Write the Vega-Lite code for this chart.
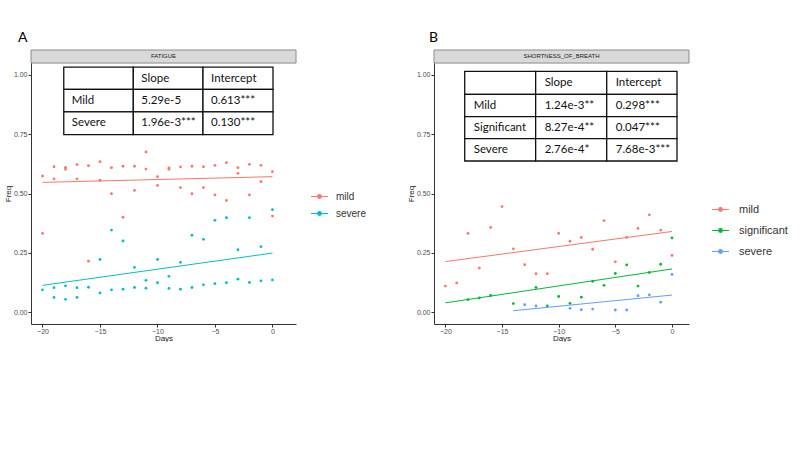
{
  "$schema": "https://vega.github.io/schema/vega-lite/v6.json",
  "background": "white",
  "padding": {"left": 4, "top": 30, "right": 0, "bottom": 0},
  "bounds": "flush",
  "spacing": 138,
  "config": {
    "view": {"stroke": null},
    "axis": {"grid": false, "domainColor": "#333333", "tickColor": "#333333", "tickSize": 3, "labelFont": "Liberation Sans", "labelFontSize": 7, "labelColor": "#4d4d4d", "labelPadding": 1, "titleFont": "Liberation Sans", "titleFontSize": 8, "titleFontWeight": "normal", "titleColor": "#222222"},
    "axisX": {"titlePadding": 0, "labelPadding": 0},
    "axisY": {"titlePadding": 1, "titleY": 143.5},
    "title": {"font": "Lato", "fontSize": 14, "fontWeight": "normal", "color": "black", "anchor": "start", "frame": "group", "baseline": "alphabetic", "offset": 5}
  },
  "datasets": {
    "ptsA": [
      {"day": -20, "freq": 0.574, "sev": "mild"}, {"day": -20, "freq": 0.332, "sev": "mild"},
      {"day": -19, "freq": 0.613, "sev": "mild"}, {"day": -19, "freq": 0.562, "sev": "mild"},
      {"day": -18, "freq": 0.610, "sev": "mild"}, {"day": -18, "freq": 0.602, "sev": "mild"},
      {"day": -17, "freq": 0.622, "sev": "mild"}, {"day": -17, "freq": 0.562, "sev": "mild"},
      {"day": -16, "freq": 0.617, "sev": "mild"}, {"day": -16, "freq": 0.215, "sev": "mild"},
      {"day": -15, "freq": 0.634, "sev": "mild"}, {"day": -15, "freq": 0.556, "sev": "mild"},
      {"day": -14, "freq": 0.609, "sev": "mild"}, {"day": -14, "freq": 0.499, "sev": "mild"},
      {"day": -13, "freq": 0.615, "sev": "mild"}, {"day": -13, "freq": 0.400, "sev": "mild"},
      {"day": -12, "freq": 0.615, "sev": "mild"}, {"day": -12, "freq": 0.513, "sev": "mild"},
      {"day": -11, "freq": 0.675, "sev": "mild"}, {"day": -11, "freq": 0.603, "sev": "mild"},
      {"day": -10, "freq": 0.571, "sev": "mild"}, {"day": -10, "freq": 0.534, "sev": "mild"},
      {"day": -9, "freq": 0.608, "sev": "mild"}, {"day": -9, "freq": 0.602, "sev": "mild"},
      {"day": -8, "freq": 0.612, "sev": "mild"}, {"day": -8, "freq": 0.525, "sev": "mild"},
      {"day": -7, "freq": 0.615, "sev": "mild"}, {"day": -7, "freq": 0.499, "sev": "mild"},
      {"day": -6, "freq": 0.613, "sev": "mild"}, {"day": -6, "freq": 0.525, "sev": "mild"},
      {"day": -5, "freq": 0.619, "sev": "mild"}, {"day": -5, "freq": 0.494, "sev": "mild"},
      {"day": -4, "freq": 0.630, "sev": "mild"}, {"day": -4, "freq": 0.471, "sev": "mild"},
      {"day": -3, "freq": 0.609, "sev": "mild"}, {"day": -3, "freq": 0.585, "sev": "mild"},
      {"day": -2, "freq": 0.623, "sev": "mild"}, {"day": -2, "freq": 0.494, "sev": "mild"},
      {"day": -1, "freq": 0.619, "sev": "mild"}, {"day": -1, "freq": 0.550, "sev": "mild"},
      {"day": 0, "freq": 0.592, "sev": "mild"}, {"day": 0, "freq": 0.405, "sev": "mild"},
      {"day": -20, "freq": 0.094, "sev": "severe"},
      {"day": -19, "freq": 0.103, "sev": "severe"}, {"day": -19, "freq": 0.062, "sev": "severe"},
      {"day": -18, "freq": 0.111, "sev": "severe"}, {"day": -18, "freq": 0.054, "sev": "severe"},
      {"day": -17, "freq": 0.103, "sev": "severe"}, {"day": -17, "freq": 0.062, "sev": "severe"},
      {"day": -16, "freq": 0.105, "sev": "severe"},
      {"day": -15, "freq": 0.222, "sev": "severe"}, {"day": -15, "freq": 0.081, "sev": "severe"},
      {"day": -14, "freq": 0.346, "sev": "severe"}, {"day": -14, "freq": 0.094, "sev": "severe"},
      {"day": -13, "freq": 0.300, "sev": "severe"}, {"day": -13, "freq": 0.097, "sev": "severe"},
      {"day": -12, "freq": 0.189, "sev": "severe"}, {"day": -12, "freq": 0.104, "sev": "severe"},
      {"day": -11, "freq": 0.134, "sev": "severe"}, {"day": -11, "freq": 0.101, "sev": "severe"},
      {"day": -10, "freq": 0.222, "sev": "severe"}, {"day": -10, "freq": 0.124, "sev": "severe"},
      {"day": -9, "freq": 0.151, "sev": "severe"}, {"day": -9, "freq": 0.100, "sev": "severe"},
      {"day": -8, "freq": 0.210, "sev": "severe"}, {"day": -8, "freq": 0.097, "sev": "severe"},
      {"day": -7, "freq": 0.324, "sev": "severe"}, {"day": -7, "freq": 0.104, "sev": "severe"},
      {"day": -6, "freq": 0.307, "sev": "severe"}, {"day": -6, "freq": 0.115, "sev": "severe"},
      {"day": -5, "freq": 0.387, "sev": "severe"}, {"day": -5, "freq": 0.120, "sev": "severe"},
      {"day": -4, "freq": 0.398, "sev": "severe"}, {"day": -4, "freq": 0.124, "sev": "severe"},
      {"day": -3, "freq": 0.263, "sev": "severe"}, {"day": -3, "freq": 0.139, "sev": "severe"},
      {"day": -2, "freq": 0.398, "sev": "severe"}, {"day": -2, "freq": 0.125, "sev": "severe"},
      {"day": -1, "freq": 0.276, "sev": "severe"}, {"day": -1, "freq": 0.132, "sev": "severe"},
      {"day": 0, "freq": 0.432, "sev": "severe"}, {"day": 0, "freq": 0.136, "sev": "severe"}
    ],
    "fitA": [
      {"day": -20, "freq": 0.547, "sev": "mild"}, {"day": 0, "freq": 0.571, "sev": "mild"},
      {"day": -20, "freq": 0.113, "sev": "severe"}, {"day": 0, "freq": 0.249, "sev": "severe"}
    ],
    "stripA": [{"day": -21, "day2": 2.05, "freq": 1.05, "freq2": 1.105, "label": "FATIGUE"}],
    "tblA": [
      {"day": -18.15, "day2": -12.10, "freq": 1.033, "freq2": 0.939, "label": ""},
      {"day": -12.10, "day2": -6.04, "freq": 1.033, "freq2": 0.939, "label": "Slope"},
      {"day": -6.04, "day2": 0.05, "freq": 1.033, "freq2": 0.939, "label": "Intercept"},
      {"day": -18.15, "day2": -12.10, "freq": 0.939, "freq2": 0.844, "label": "Mild"},
      {"day": -12.10, "day2": -6.04, "freq": 0.939, "freq2": 0.844, "label": "5.29e-5"},
      {"day": -6.04, "day2": 0.05, "freq": 0.939, "freq2": 0.844, "label": "0.613***"},
      {"day": -18.15, "day2": -12.10, "freq": 0.844, "freq2": 0.748, "label": "Severe"},
      {"day": -12.10, "day2": -6.04, "freq": 0.844, "freq2": 0.748, "label": "1.96e-3***"},
      {"day": -6.04, "day2": 0.05, "freq": 0.844, "freq2": 0.748, "label": "0.130***"}
    ],
    "ptsB": [
      {"day": -20, "freq": 0.110, "sev": "mild"}, {"day": -19, "freq": 0.123, "sev": "mild"},
      {"day": -18, "freq": 0.332, "sev": "mild"}, {"day": -17, "freq": 0.186, "sev": "mild"},
      {"day": -16, "freq": 0.357, "sev": "mild"}, {"day": -15, "freq": 0.445, "sev": "mild"},
      {"day": -14, "freq": 0.267, "sev": "mild"}, {"day": -13, "freq": 0.200, "sev": "mild"},
      {"day": -12, "freq": 0.162, "sev": "mild"}, {"day": -11, "freq": 0.162, "sev": "mild"},
      {"day": -10, "freq": 0.332, "sev": "mild"}, {"day": -9, "freq": 0.299, "sev": "mild"},
      {"day": -8, "freq": 0.315, "sev": "mild"}, {"day": -7, "freq": 0.265, "sev": "mild"},
      {"day": -6, "freq": 0.386, "sev": "mild"}, {"day": -5, "freq": 0.212, "sev": "mild"},
      {"day": -4, "freq": 0.315, "sev": "mild"}, {"day": -3, "freq": 0.353, "sev": "mild"},
      {"day": -2, "freq": 0.410, "sev": "mild"}, {"day": -1, "freq": 0.346, "sev": "mild"},
      {"day": 0, "freq": 0.239, "sev": "mild"},
      {"day": -18, "freq": 0.053, "sev": "significant"}, {"day": -17, "freq": 0.060, "sev": "significant"},
      {"day": -16, "freq": 0.070, "sev": "significant"}, {"day": -14, "freq": 0.036, "sev": "significant"},
      {"day": -12, "freq": 0.104, "sev": "significant"}, {"day": -11, "freq": 0.026, "sev": "significant"},
      {"day": -10, "freq": 0.066, "sev": "significant"}, {"day": -9, "freq": 0.037, "sev": "significant"},
      {"day": -8, "freq": 0.063, "sev": "significant"}, {"day": -7, "freq": 0.130, "sev": "significant"},
      {"day": -6, "freq": 0.113, "sev": "significant"}, {"day": -5, "freq": 0.163, "sev": "significant"},
      {"day": -4, "freq": 0.199, "sev": "significant"}, {"day": -3, "freq": 0.110, "sev": "significant"},
      {"day": -2, "freq": 0.167, "sev": "significant"}, {"day": -1, "freq": 0.202, "sev": "significant"},
      {"day": 0, "freq": 0.313, "sev": "significant"},
      {"day": -13, "freq": 0.031, "sev": "severe"}, {"day": -12, "freq": 0.026, "sev": "severe"},
      {"day": -9, "freq": 0.016, "sev": "severe"}, {"day": -8, "freq": 0.010, "sev": "severe"},
      {"day": -7, "freq": 0.013, "sev": "severe"}, {"day": -5, "freq": 0.009, "sev": "severe"},
      {"day": -4, "freq": 0.009, "sev": "severe"}, {"day": -3, "freq": 0.069, "sev": "severe"},
      {"day": -2, "freq": 0.073, "sev": "severe"}, {"day": -1, "freq": 0.042, "sev": "severe"},
      {"day": 0, "freq": 0.159, "sev": "severe"}
    ],
    "fitB": [
      {"day": -20, "freq": 0.213, "sev": "mild"}, {"day": 0, "freq": 0.340, "sev": "mild"},
      {"day": -20, "freq": 0.039, "sev": "significant"}, {"day": 0, "freq": 0.182, "sev": "significant"},
      {"day": -14, "freq": 0.006, "sev": "severe"}, {"day": 0, "freq": 0.072, "sev": "severe"}
    ],
    "stripB": [{"day": -21, "day2": 1.5, "freq": 1.05, "freq2": 1.105, "label": "SHORTNESS_OF_BREATH"}],
    "tblB": [
      {"day": -18.29, "day2": -12.03, "freq": 1.015, "freq2": 0.918, "label": ""},
      {"day": -12.03, "day2": -5.76, "freq": 1.015, "freq2": 0.918, "label": "Slope"},
      {"day": -5.76, "day2": 0.44, "freq": 1.015, "freq2": 0.918, "label": "Intercept"},
      {"day": -18.29, "day2": -12.03, "freq": 0.918, "freq2": 0.824, "label": "Mild"},
      {"day": -12.03, "day2": -5.76, "freq": 0.918, "freq2": 0.824, "label": "1.24e-3**"},
      {"day": -5.76, "day2": 0.44, "freq": 0.918, "freq2": 0.824, "label": "0.298***"},
      {"day": -18.29, "day2": -12.03, "freq": 0.824, "freq2": 0.731, "label": "Significant"},
      {"day": -12.03, "day2": -5.76, "freq": 0.824, "freq2": 0.731, "label": "8.27e-4**"},
      {"day": -5.76, "day2": 0.44, "freq": 0.824, "freq2": 0.731, "label": "0.047***"},
      {"day": -18.29, "day2": -12.03, "freq": 0.731, "freq2": 0.637, "label": "Severe"},
      {"day": -12.03, "day2": -5.76, "freq": 0.731, "freq2": 0.637, "label": "2.76e-4*"},
      {"day": -5.76, "day2": 0.44, "freq": 0.731, "freq2": 0.637, "label": "7.68e-3***"}
    ]
  },
  "hconcat": [
    {
      "width": 265,
      "height": 274,
      "title": {"text": "A", "dx": -13},
      "layer": [
        {
          "data": {"name": "stripA"},
          "mark": {"type": "rect", "fill": "#d9d9d9", "stroke": "#8c8c8c", "strokeWidth": 1},
          "encoding": {
            "x": {"field": "day", "type": "quantitative", "title": "Days", "scale": {"domain": [-21, 2.05], "nice": false, "zero": false}, "axis": {"values": [-20, -15, -10, -5, 0]}},
            "x2": {"field": "day2"},
            "y": {"field": "freq", "type": "quantitative", "title": "Freq", "scale": {"domain": [-0.05, 1.105], "nice": false, "zero": false}, "axis": {"values": [0, 0.25, 0.5, 0.75, 1], "format": ".2f"}},
            "y2": {"field": "freq2"}
          }
        },
        {
          "data": {"name": "stripA"},
          "mark": {"type": "text", "font": "Liberation Sans", "fontSize": 6, "color": "#1a1a1a", "baseline": "middle", "align": "center", "dy": 6},
          "encoding": {
            "x": {"datum": -9.475, "type": "quantitative", "title": "Days"},
            "y": {"field": "freq2", "type": "quantitative", "title": "Freq"},
            "text": {"field": "label"}
          }
        },
        {
          "data": {"name": "ptsA"},
          "mark": {"type": "point", "filled": true, "size": 8, "opacity": 1},
          "encoding": {
            "x": {"field": "day", "type": "quantitative", "title": "Days"},
            "y": {"field": "freq", "type": "quantitative", "title": "Freq"},
            "color": {"field": "sev", "type": "nominal", "scale": {"domain": ["mild", "severe"], "range": ["#F8766D", "#00BFC4"]},
              "legend": {"orient": "none", "legendX": 279, "legendY": 137, "title": null, "padding": 0, "symbolType": "M-1,0L1,0M-0.22,0A0.22,0.22,0,1,1,0.22,0A0.22,0.22,0,1,1,-0.22,0Z", "symbolSize": 289, "symbolStrokeWidth": 1.2, "labelFont": "Liberation Sans", "labelFontSize": 10, "labelColor": "#333333", "rowPadding": 2, "labelOffset": 7}}
          }
        },
        {
          "data": {"name": "fitA"},
          "mark": {"type": "line", "strokeWidth": 1},
          "encoding": {
            "x": {"field": "day", "type": "quantitative", "title": "Days"},
            "y": {"field": "freq", "type": "quantitative", "title": "Freq"},
            "color": {"field": "sev", "type": "nominal"}
          }
        },
        {
          "data": {"name": "tblA"},
          "mark": {"type": "rect", "fill": "white", "stroke": "#111111", "strokeWidth": 1.3},
          "encoding": {
            "x": {"field": "day", "type": "quantitative", "title": "Days"},
            "x2": {"field": "day2"},
            "y": {"field": "freq", "type": "quantitative", "title": "Freq"},
            "y2": {"field": "freq2"}
          }
        },
        {
          "data": {"name": "tblA"},
          "mark": {"type": "text", "font": "Lato", "fontSize": 11.5, "color": "#111111", "align": "left", "baseline": "middle", "dx": 8, "dy": 11.5},
          "encoding": {
            "x": {"field": "day", "type": "quantitative", "title": "Days"},
            "y": {"field": "freq", "type": "quantitative", "title": "Freq"},
            "text": {"field": "label"}
          }
        }
      ]
    },
    {
      "width": 255,
      "height": 274,
      "title": {"text": "B", "dx": -5},
      "layer": [
        {
          "data": {"name": "stripB"},
          "mark": {"type": "rect", "fill": "#d9d9d9", "stroke": "#8c8c8c", "strokeWidth": 1},
          "encoding": {
            "x": {"field": "day", "type": "quantitative", "title": "Days", "scale": {"domain": [-21, 1.5], "nice": false, "zero": false}, "axis": {"values": [-20, -15, -10, -5, 0]}},
            "x2": {"field": "day2"},
            "y": {"field": "freq", "type": "quantitative", "title": "Freq", "scale": {"domain": [-0.05, 1.105], "nice": false, "zero": false}, "axis": {"values": [0, 0.25, 0.5, 0.75, 1], "format": ".2f"}},
            "y2": {"field": "freq2"}
          }
        },
        {
          "data": {"name": "stripB"},
          "mark": {"type": "text", "font": "Liberation Sans", "fontSize": 6, "color": "#1a1a1a", "baseline": "middle", "align": "center", "dy": 6},
          "encoding": {
            "x": {"datum": -9.75, "type": "quantitative", "title": "Days"},
            "y": {"field": "freq2", "type": "quantitative", "title": "Freq"},
            "text": {"field": "label"}
          }
        },
        {
          "data": {"name": "ptsB"},
          "mark": {"type": "point", "filled": true, "size": 8, "opacity": 1},
          "encoding": {
            "x": {"field": "day", "type": "quantitative", "title": "Days"},
            "y": {"field": "freq", "type": "quantitative", "title": "Freq"},
            "color": {"field": "sev", "type": "nominal", "scale": {"domain": ["mild", "significant", "severe"], "range": ["#F8766D", "#00BA38", "#619CFF"]},
              "legend": {"orient": "none", "legendX": 277, "legendY": 150, "title": null, "padding": 0, "symbolType": "M-1,0L1,0M-0.22,0A0.22,0.22,0,1,1,0.22,0A0.22,0.22,0,1,1,-0.22,0Z", "symbolSize": 289, "symbolStrokeWidth": 1.2, "labelFont": "Liberation Sans", "labelFontSize": 11, "labelColor": "#333333", "rowPadding": 6, "labelOffset": 9}}
          }
        },
        {
          "data": {"name": "fitB"},
          "mark": {"type": "line", "strokeWidth": 1},
          "encoding": {
            "x": {"field": "day", "type": "quantitative", "title": "Days"},
            "y": {"field": "freq", "type": "quantitative", "title": "Freq"},
            "color": {"field": "sev", "type": "nominal"}
          }
        },
        {
          "data": {"name": "tblB"},
          "mark": {"type": "rect", "fill": "white", "stroke": "#111111", "strokeWidth": 1.3},
          "encoding": {
            "x": {"field": "day", "type": "quantitative", "title": "Days"},
            "x2": {"field": "day2"},
            "y": {"field": "freq", "type": "quantitative", "title": "Freq"},
            "y2": {"field": "freq2"}
          }
        },
        {
          "data": {"name": "tblB"},
          "mark": {"type": "text", "font": "Lato", "fontSize": 11.5, "color": "#111111", "align": "left", "baseline": "middle", "dx": 9, "dy": 11.2},
          "encoding": {
            "x": {"field": "day", "type": "quantitative", "title": "Days"},
            "y": {"field": "freq", "type": "quantitative", "title": "Freq"},
            "text": {"field": "label"}
          }
        }
      ]
    }
  ],
  "resolve": {"scale": {"color": "independent"}, "legend": {"color": "independent"}}
}
